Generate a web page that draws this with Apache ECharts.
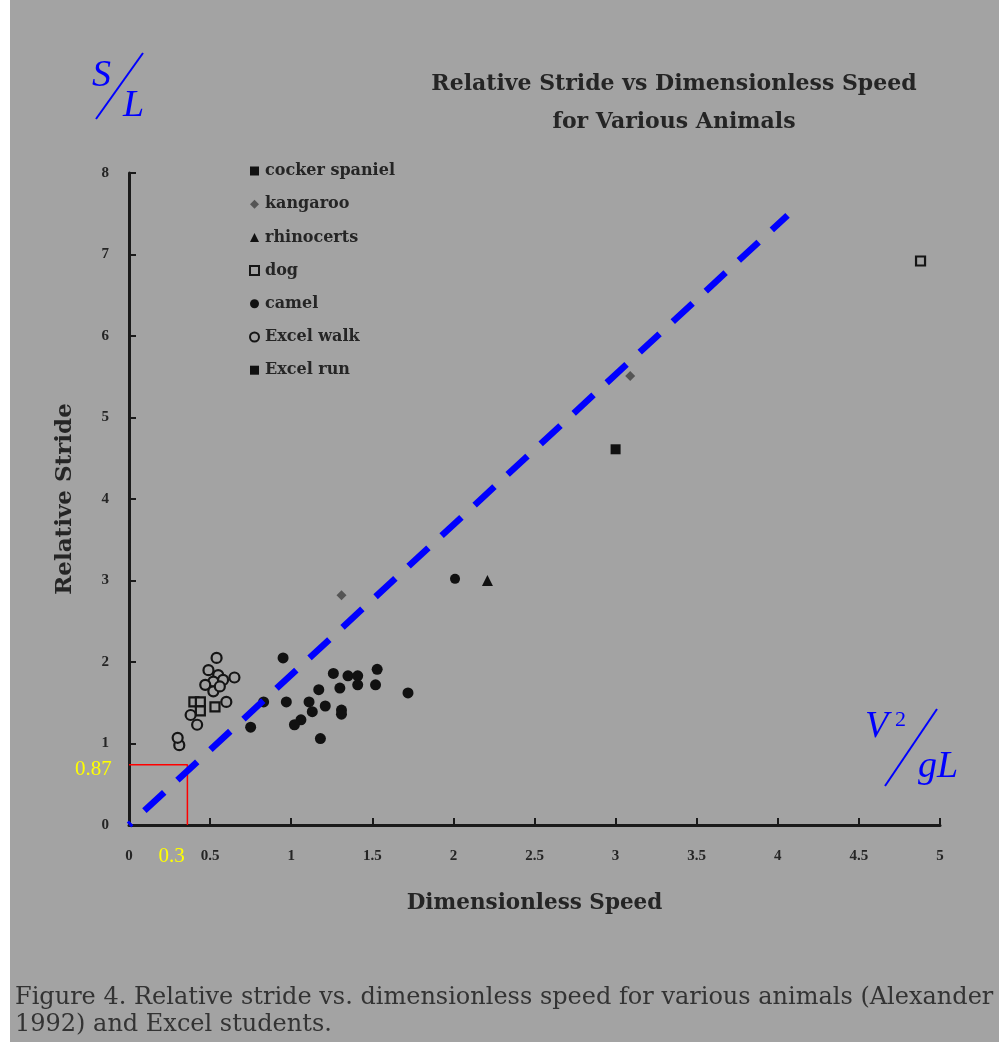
<!DOCTYPE html>
<html><head><meta charset="utf-8">
<script src="https://cdn.jsdelivr.net/npm/echarts@6/dist/echarts.min.js"></script>
<style>
html,body{margin:0;padding:0;background:#ffffff;}
#wrap{position:absolute;left:10px;top:0;width:989px;height:1042px;background:#a3a3a3;}
#c{position:absolute;left:0;top:0;width:999px;height:1054px;}
</style></head>
<body><div id="wrap"></div><div id="c"></div>
<script>
// ---- data ----
const xTicks = ['0','0.5','1','1.5','2','2.5','3','3.5','4','4.5','5'];
const yTicks = ['0','1','2','3','4','5','6','7','8'];
const cockerSpaniel = [[3.0,4.61]];
const kangaroo = [[1.31,2.82],[3.09,5.51]];
const rhinoceros = [[2.21,3.0]];
const dog = [[0.40,1.51],[0.44,1.51],[0.44,1.40],[0.53,1.45],[4.88,6.92]];
const camel = [[2.01,3.02]];
const excelWalk = [[0.54,2.05],[0.49,1.90],[0.55,1.84],[0.65,1.81],[0.52,1.76],[0.47,1.72],[0.58,1.78],
  [0.52,1.64],[0.60,1.51],[0.38,1.35],[0.42,1.23],[0.31,0.98],[0.30,1.07],[0.56,1.70]];
const excelRun = [[0.95,2.05],[1.26,1.86],[1.35,1.83],[1.41,1.83],[1.53,1.91],[1.30,1.68],[1.41,1.72],
  [1.52,1.72],[1.17,1.66],[0.97,1.51],[1.11,1.51],[1.21,1.46],[1.13,1.39],[1.31,1.41],[1.31,1.36],
  [1.06,1.29],[1.02,1.23],[1.18,1.06],[0.75,1.20],[0.83,1.51],[1.72,1.62]];
const trendLine = [[0,0],[4.06,7.48]];
const boxCorner = [0.36,0.74];
const boxLabels = ['0.3','0.87'];

const bg = '#a3a3a3';
const ink = '#1a1a1a';
const serif = '"Liberation Serif", "DejaVu Serif", serif';
const wide = '"DejaVu Serif", "Liberation Serif", serif';
const chart = echarts.init(document.getElementById('c'), null, {renderer:'canvas'});

function sc(name, data, symbol, size, filled, color){
  return {
    name, type:'scatter', data, symbol, symbolSize:size, z:5,
    itemStyle: filled ? {color: color||'#111', opacity:1}
                      : {color: bg, borderColor:'#151515', borderWidth:2.2, opacity:1},
    emphasis:{disabled:true}
  };
}

chart.setOption({
  animation:false,
  backgroundColor:'transparent',
  title:{
    text:'Relative Stride vs Dimensionless Speed\nfor Various Animals',
    left:669, top:60, textAlign:'center',
    textStyle:{fontFamily:wide, fontWeight:'bold', fontSize:22, color:'#252525', lineHeight:38}
  },
  legend:{
    orient:'vertical', left:244, top:158, itemGap:17.2, itemWidth:9, itemHeight:9,
    textStyle:{fontFamily:wide, fontWeight:'bold', fontSize:16, color:'#252525', padding:[0,0,0,1]},
    data:[
      {name:'cocker spaniel', icon:'rect'},
      {name:'kangaroo', icon:'diamond'},
      {name:'rhinocerts', icon:'triangle'},
      {name:'dog', icon:'rect'},
      {name:'camel', icon:'circle'},
      {name:'Excel walk', icon:'circle'},
      {name:'Excel run', icon:'rect'}
    ],
    selectedMode:false
  },
  grid:{left:129, right:59, top:173, bottom:229},
  xAxis:{
    type:'value', min:0, max:5, interval:0.5,
    axisLine:{show:true, onZero:false, lineStyle:{color:ink, width:3}},
    axisTick:{show:true, inside:true, length:7, lineStyle:{color:ink, width:2}},
    splitLine:{show:false},
    axisLabel:{margin:24, fontFamily:serif, fontWeight:'bold', fontSize:15, color:'#252525',
      formatter:(v)=>{const i=Math.round(v*2); return xTicks[i]||'';}},
    name:'Dimensionless Speed', nameLocation:'middle', nameGap:67,
    nameTextStyle:{fontFamily:wide, fontWeight:'bold', fontSize:21.5, color:'#252525'}
  },
  yAxis:{
    type:'value', min:0, max:8, interval:1,
    axisLine:{show:true, onZero:false, lineStyle:{color:ink, width:3}},
    axisTick:{show:true, inside:true, length:7, lineStyle:{color:ink, width:2}},
    splitLine:{show:false},
    axisLabel:{margin:20, fontFamily:serif, fontWeight:'bold', fontSize:15, color:'#252525',
      formatter:(v)=>yTicks[Math.round(v)]||''},
    name:'Relative Stride', nameLocation:'middle', nameGap:52,
    nameTextStyle:{fontFamily:wide, fontWeight:'bold', fontSize:23, color:'#252525'}
  },
  series:[
    sc('cocker spaniel', cockerSpaniel, 'rect', 10, true),
    sc('kangaroo', kangaroo, 'diamond', 10, true, '#555'),
    sc('rhinocerts', rhinoceros, 'triangle', 11, true),
    sc('dog', dog, 'rect', 9, false),
    sc('camel', camel, 'circle', 10, true),
    sc('Excel walk', excelWalk, 'circle', 10, false),
    sc('Excel run', excelRun, 'circle', 11, true),
    {
      name:'trend', type:'line', data:trendLine, symbol:'none', z:10, silent:true,
      lineStyle:{color:'#0000ff', width:6.5, type:[27,18], dashOffset:24, cap:'butt'}
    },
    {
      name:'box', type:'line', data:[[0,boxCorner[1]],[boxCorner[0],boxCorner[1]],[boxCorner[0],0]],
      symbol:'none', z:8, silent:true, lineStyle:{color:'#ff0000', width:1.5}
    }
  ]
});

// annotations placed from data coordinates
const pBoxX = chart.convertToPixel({gridIndex:0}, [boxCorner[0], 0]);
const pBoxY = chart.convertToPixel({gridIndex:0}, [0, boxCorner[1]]);
const ital = {fontFamily:serif, fontStyle:'italic', fontSize:38, fill:'#0000ff'};
chart.setOption({
  graphic:[
    {type:'text', left:pBoxY[0]-54, top:pBoxY[1]-6, style:{text:boxLabels[1], fontFamily:serif, fontSize:21, fill:'#ffff00'}},
    {type:'text', left:pBoxX[0]-29, top:846, style:{text:boxLabels[0], fontFamily:serif, fontSize:21, fill:'#ffff00'}},
    // S / L
    {type:'text', left:92, top:57, style:Object.assign({text:'S'}, ital)},
    {type:'line', shape:{x1:96, y1:119, x2:143, y2:53}, style:{stroke:'#0000ff', lineWidth:2}},
    {type:'text', left:123, top:87, style:Object.assign({text:'L'}, ital)},
    // V^2 / gL
    {type:'text', left:865, top:708, style:Object.assign({text:'V'}, ital)},
    {type:'text', left:895, top:709, style:{text:'2', fontFamily:serif, fontSize:22, fill:'#0000ff'}},
    {type:'line', shape:{x1:885, y1:786, x2:937, y2:709}, style:{stroke:'#0000ff', lineWidth:2}},
    {type:'text', left:918, top:748, style:Object.assign({text:'gL'}, ital)},
    // caption
    {type:'text', left:15, top:984, style:{text:'Figure 4. Relative stride vs. dimensionless speed for various animals (Alexander\n1992) and Excel students.', fontFamily:wide, fontSize:24, lineHeight:27, fill:'#333'}}
  ]
});
</script>
</body></html>
